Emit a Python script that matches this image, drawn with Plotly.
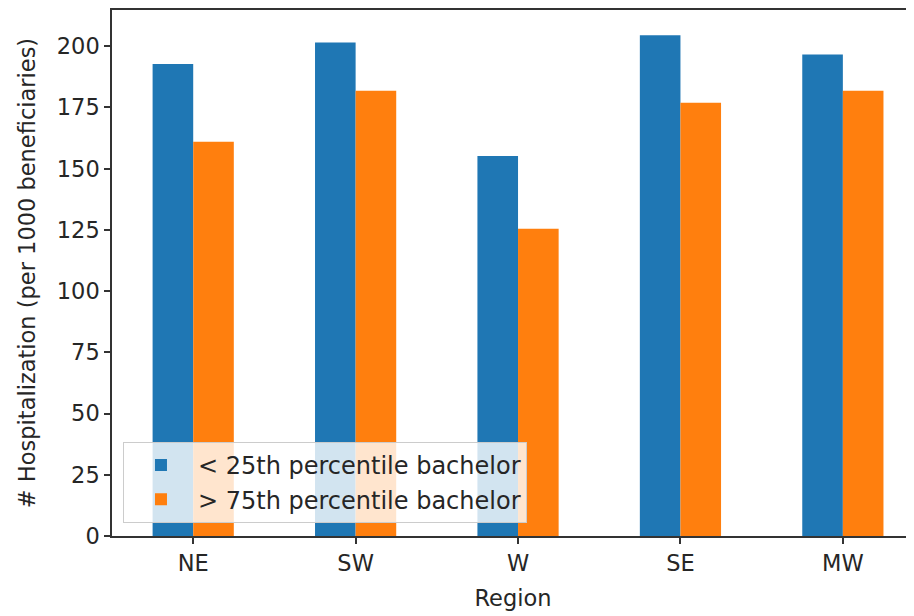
import plotly.graph_objects as go

regions = ["NE", "SW", "W", "SE", "MW"]
low_bachelor = [192.7, 201.5, 155.2, 204.5, 196.6]
high_bachelor = [161.0, 181.8, 125.5, 176.9, 181.8]
series_names = ["< 25th percentile bachelor", "> 75th percentile bachelor"]
y_ticks = [0, 25, 50, 75, 100, 125, 150, 175, 200]

FONT = "DejaVu Sans"
FS = 22.5
TXT = "#262626"

fig = go.Figure()
fig.add_trace(go.Bar(x=regions, y=low_bachelor, name=series_names[0],
                     marker=dict(color="#1f77b4", line=dict(width=0))))
fig.add_trace(go.Bar(x=regions, y=high_bachelor, name=series_names[1],
                     marker=dict(color="#ff7f0e", line=dict(width=0))))

fig.update_layout(
    width=906, height=608,
    margin=dict(l=104, r=0, t=0, b=80),
    paper_bgcolor="white", plot_bgcolor="white",
    barmode="group", bargap=0.5, bargroupgap=0,
    font=dict(family=FONT, size=FS, color=TXT),
    showlegend=True,
    legend=dict(
        x=0.0137, y=0.025, xanchor="left", yanchor="bottom",
        bgcolor="rgba(255,255,255,0.8)", bordercolor="#cccccc", borderwidth=1,
        font=dict(family=FONT, size=24, color=TXT),
        itemwidth=64, traceorder="normal",
    ),
    xaxis=dict(
        range=[-0.5, 4.438],
        showline=True, linecolor="#333333", linewidth=1.5, mirror=True,
        ticks="outside", ticklen=6, tickwidth=1.5, tickcolor="#333333",
        showgrid=False, zeroline=False,
        title=dict(text="Region", font=dict(family=FONT, size=FS, color=TXT), standoff=15),
        tickfont=dict(family=FONT, size=FS, color=TXT),
    ),
    yaxis=dict(
        range=[0, 214.8],
        tickvals=y_ticks,
        showline=True, linecolor="#333333", linewidth=1.5, mirror=False,
        ticks="outside", ticklen=6, tickwidth=1.5, tickcolor="#333333",
        showgrid=False, zeroline=False,
        title=dict(text="# Hospitalization (per 1000 beneficiaries)",
                   font=dict(family=FONT, size=FS, color=TXT), standoff=15),
        tickfont=dict(family=FONT, size=FS, color=TXT),
    ),
)

fig.write_html("out.html")
